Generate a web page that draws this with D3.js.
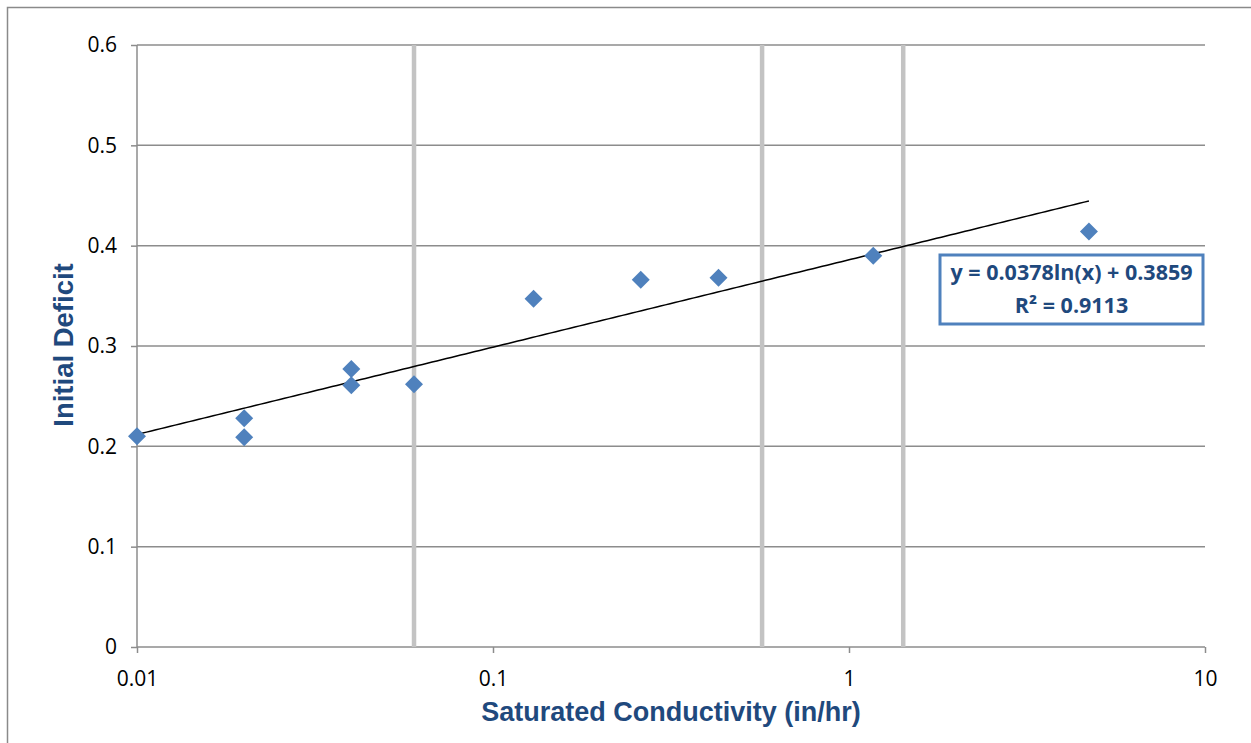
<!DOCTYPE html>
<html>
<head>
<meta charset="utf-8">
<script src="https://cdn.jsdelivr.net/npm/d3@7"></script>
<style>
  html, body { margin: 0; padding: 0; background: #fff; }
  svg { display: block; }
</style>
</head>
<body>
<svg id="chart" width="1251" height="743"></svg>
<script>
// ---- data ----
const conductivity = [0.01, 0.02, 0.02, 0.04, 0.04, 0.06, 0.13, 0.26, 0.43, 1.17, 4.72];
const initialDeficit = [0.210, 0.228, 0.209, 0.277, 0.261, 0.262, 0.347, 0.366, 0.368, 0.390, 0.414];
const markerLines = [0.06, 0.57, 1.42];
const xTicks = [0.01, 0.1, 1, 10];
const xTickLabels = ["0.01", "0.1", "1", "10"];
const yTicks = [0, 0.1, 0.2, 0.3, 0.4, 0.5, 0.6];
const yTickLabels = ["0", "0.1", "0.2", "0.3", "0.4", "0.5", "0.6"];
const trendCoef = [0.0378, 0.3859];
const trendText = ["y = 0.0378ln(x) + 0.3859", "R² = 0.9113"];

const svg = d3.select("#chart");
const L = 137, R = 1205, T = 45, B = 647;
const x = d3.scaleLog().domain([0.01, 10]).range([L, R]);
const y = d3.scaleLinear().domain([0, 0.6]).range([B, T]);
const tickFont = "'Open Sans', 'Liberation Sans', sans-serif";

// outer border
svg.append("rect").attr("x", 7.5).attr("y", 7.5).attr("width", 1300).attr("height", 800)
  .attr("fill", "none").attr("stroke", "#8a8a8a").attr("stroke-width", 1.5);

// horizontal gridlines
svg.append("g").selectAll("line").data(yTicks).join("line")
  .attr("x1", L).attr("x2", R).attr("y1", d => y(d)).attr("y2", d => y(d))
  .attr("stroke", "#8c8c8c").attr("stroke-width", 1.5);

// thick vertical marker lines
svg.append("g").selectAll("line").data(markerLines).join("line")
  .attr("x1", d => x(d)).attr("x2", d => x(d)).attr("y1", T).attr("y2", B)
  .attr("stroke", "#c3c3c3").attr("stroke-width", 4.5);

// y axis
const yAxis = d3.axisLeft(y).tickValues(yTicks).tickFormat((d, i) => yTickLabels[i]).tickSize(6).tickPadding(14);
const gy = svg.append("g").attr("transform", `translate(${L},0)`).call(yAxis);
gy.attr("font-size", null).attr("font-family", null);
gy.select(".domain").attr("stroke", "#8c8c8c").attr("stroke-width", 1.5).attr("d", `M0,${T}V${B}`);
gy.selectAll(".tick line").attr("stroke", "#8c8c8c").attr("stroke-width", 1.5);
gy.selectAll("text").style("font-family", tickFont).style("font-size", "21px").attr("fill", "#000");

// x axis
const xAxis = d3.axisBottom(x).tickValues(xTicks).tickFormat((d, i) => xTickLabels[i]).tickSize(6).tickPadding(18);
const gx = svg.append("g").attr("transform", `translate(0,${B})`).call(xAxis);
gx.attr("font-size", null).attr("font-family", null);
gx.select(".domain").remove();
gx.selectAll(".tick line").attr("stroke", "#8c8c8c").attr("stroke-width", 1.5);
gx.selectAll("text").style("font-family", tickFont).style("font-size", "21px").attr("fill", "#000");

// trend line
const lo = Math.log(d3.min(conductivity)), hi = Math.log(d3.max(conductivity));
const xs = d3.range(0, 201).map(i => Math.exp(lo + i / 200 * (hi - lo)));
const line = d3.line().x(d => x(d)).y(d => y(trendCoef[0] * Math.log(d) + trendCoef[1]));
svg.append("path").datum(xs).attr("d", line).attr("fill", "none")
  .attr("stroke", "#000").attr("stroke-width", 1.5);

// points
const pts = conductivity.map((c, i) => ({ c, v: initialDeficit[i] }));
svg.append("g").selectAll("path").data(pts).join("path")
  .attr("transform", d => `translate(${x(d.c)},${y(d.v)})`)
  .attr("d", "M0,-9L9,0L0,9L-9,0Z")
  .attr("fill", "#4f81bd");

// equation box
svg.append("rect").attr("x", 940).attr("y", 255).attr("width", 263).attr("height", 69)
  .attr("fill", "#fff").attr("stroke", "#4f81bd").attr("stroke-width", 3);
svg.append("g").selectAll("text").data(trendText).join("text")
  .attr("x", 1071.5).attr("y", (d, i) => 274 + i * 33)
  .attr("text-anchor", "middle").attr("dominant-baseline", "middle")
  .style("font-family", tickFont).attr("font-weight", "bold")
  .style("font-size", "21.5px").attr("fill", "#1f497d").text(d => d);

// axis titles
svg.append("text").attr("x", 671).attr("y", 714)
  .attr("text-anchor", "middle").attr("dominant-baseline", "middle")
  .style("font-family", "'Liberation Sans', Arial, sans-serif").attr("font-weight", "bold")
  .style("font-size", "27px").attr("fill", "#1f497d").text("Saturated Conductivity (in/hr)");
svg.append("text").attr("transform", "translate(66,345) rotate(-90)")
  .attr("text-anchor", "middle").attr("dominant-baseline", "middle")
  .style("font-family", "'Liberation Sans', Arial, sans-serif").attr("font-weight", "bold")
  .style("font-size", "27.5px").attr("fill", "#1f497d").text("Initial Deficit");
</script>
</body>
</html>
